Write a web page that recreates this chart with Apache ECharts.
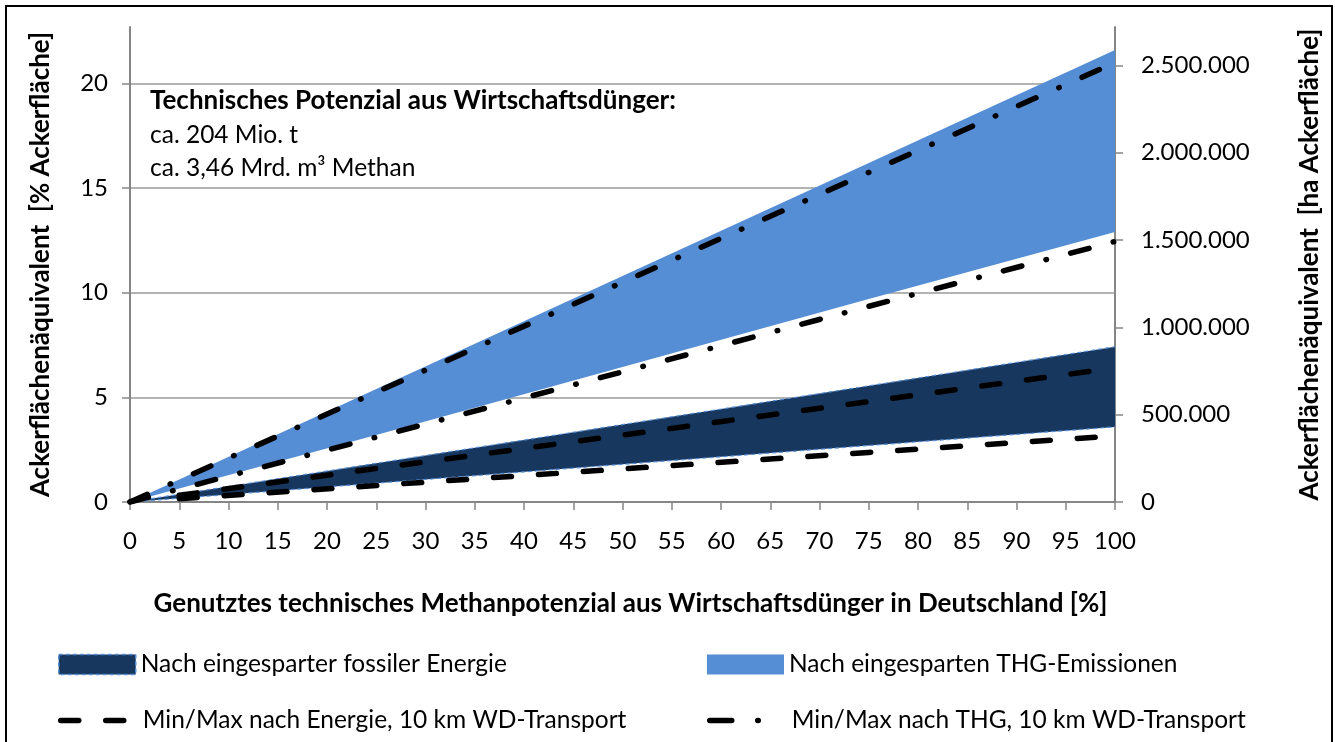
<!DOCTYPE html>
<html><head><meta charset="utf-8">
<script src="https://cdn.jsdelivr.net/npm/echarts@6/dist/echarts.min.js"></script>
<style>html,body{margin:0;padding:0;background:#fff}#c{width:1335px;height:742px}</style>
</head><body><div id="c"></div>
<script>
// x: genutztes technisches Methanpotenzial [%]
const xPct = [0, 5, 25, 50, 75, 100];
// Bänder [% Ackerfläche]
const thgBandLower = [0, 0.65, 3.2, 6.45, 9.7, 12.9];
const thgBandUpper = [0, 1.08, 5.4, 10.8, 16.2, 21.6];
const enBandLower  = [0, 0.18, 0.9, 1.8, 2.7, 3.59];
const enBandUpper  = [0, 0.37, 1.85, 3.7, 5.55, 7.42];
// Min/Max Linien (10 km WD-Transport)
const enLineMin  = [null, 0.16, 0.79, 1.58, 2.37, 3.16];
const enLineMax  = [null, 0.32, 1.6, 3.2, 4.8, 6.41];
const thgLineMin = [0, 0.62, 3.1, 6.22, 9.35, 12.45];
const thgLineMax = [0, 1.05, 5.25, 10.5, 15.75, 21.0];
// Achsen
const leftMax = 22.7;          // % Ackerfläche
const haPerPct = 119800;       // ha je % Ackerfläche
const xTicks = 5, leftTicks = 5, rightTicks = 500000;

const FONT = 'Lato';
const FS = 24, FSL = 24.5, FSB = 26;
const pairs = (xs, ys) => xs.map((x, i) => [x, ys[i]]).filter(p => p[1] !== null);
const de = v => String(Math.round(v)).replace(/\B(?=(\d{3})+(?!\d))/g, '.');

const LB = '#558ED5', DB = '#17375E';
const NAME_EN = 'Nach eingesparter fossiler Energie';
const NAME_THG = 'Nach eingesparten THG-Emissionen';
const NAME_ENL = 'Min/Max nach Energie, 10 km WD-Transport';
const NAME_THGL = 'Min/Max nach THG, 10 km WD-Transport';

const enLine = { color: '#000', width: 5.5, type: [18, 27], cap: 'round' };
const thgLine = { color: '#000', width: 5.5, type: [19, 25, 0.5, 25], cap: 'round' };
const edge = { color: LB, width: 1.2, type: [4, 3] };

function band(name, lower, upper, color, z) {
  return {
    name, type: 'custom', z, coordinateSystem: 'cartesian2d', silent: true,
    itemStyle: { color },
    data: [[0, 0]],
    encode: { x: 0, y: 1 },
    renderItem: (params, api) => {
      const pts = [];
      xPct.forEach((x, i) => pts.push(api.coord([x, upper[i]])));
      for (let i = xPct.length - 1; i >= 0; i--) pts.push(api.coord([xPct[i], lower[i]]));
      return { type: 'polygon', shape: { points: pts }, style: { fill: color } };
    }
  };
}

function legendAt(left, top, item) {
  return {
    orient: 'horizontal', left, top, itemWidth: 77, itemHeight: 20, itemGap: 0, padding: 0,
    textStyle: { fontFamily: FONT, fontSize: FSL, color: '#000' },
    data: [item]
  };
}

const chart = echarts.init(document.getElementById('c'), null, { renderer: 'canvas' });
chart.setOption({
  animation: false,
  textStyle: { fontFamily: FONT },
  grid: { left: 130, right: 220, top: 27, bottom: 240 },
  xAxis: {
    type: 'value', min: 0, max: 100, interval: xTicks,
    name: 'Genutztes technisches Methanpotenzial aus Wirtschaftsdünger in Deutschland [%]',
    nameLocation: 'middle', nameGap: 89,
    nameTextStyle: { fontFamily: FONT, fontSize: FSB, fontWeight: 'bold', color: '#000', padding: [0, 0, 0, 16] },
    axisLine: { lineStyle: { color: '#868686', width: 2 } },
    axisTick: { show: true, length: 8, lineStyle: { color: '#868686', width: 1.5 } },
    axisLabel: { fontFamily: FONT, fontSize: FS, color: '#000', margin: 27 },
    splitLine: { show: false }
  },
  yAxis: [{
    type: 'value', min: 0, max: leftMax, interval: leftTicks, position: 'left',
    name: 'Ackerflächenäquivalent  [% Ackerfläche]',
    nameLocation: 'middle', nameGap: 76, nameRotate: 90,
    nameTextStyle: { fontFamily: FONT, fontSize: FSB, fontWeight: 'bold', color: '#000' },
    axisLine: { show: true, lineStyle: { color: '#868686', width: 2 } },
    axisTick: { show: true, length: 8, lineStyle: { color: '#868686', width: 1.5 } },
    axisLabel: { fontFamily: FONT, fontSize: FS, color: '#000', margin: 22, showMaxLabel: false,
      formatter: v => (v % leftTicks === 0 ? String(v) : '') },
    splitLine: { show: true, showMaxLine: false, lineStyle: { color: '#9a9a9a', width: 1.5 } }
  }, {
    type: 'value', min: 0, max: leftMax * haPerPct, interval: rightTicks, position: 'right',
    name: 'Ackerflächenäquivalent  [ha Ackerfläche]',
    nameLocation: 'middle', nameGap: 182, nameRotate: 90,
    nameTextStyle: { fontFamily: FONT, fontSize: FSB, fontWeight: 'bold', color: '#000' },
    axisLine: { show: true, lineStyle: { color: '#868686', width: 2 } },
    axisTick: { show: true, length: 8, lineStyle: { color: '#868686', width: 1.5 } },
    axisLabel: { fontFamily: FONT, fontSize: FS, color: '#000', margin: 26, showMaxLabel: false,
      formatter: v => (v % rightTicks === 0 ? de(v) : '') },
    splitLine: { show: false }
  }],
  legend: [
    legendAt(58, 652, { name: NAME_EN, icon: 'rect', itemStyle: { color: DB, borderColor: LB, borderWidth: 1.5, borderType: [4, 3] } }),
    legendAt(58, 708, { name: NAME_ENL, itemStyle: { color: 'transparent', borderWidth: 0 },
      lineStyle: { color: '#000', width: 5.5, type: [18, 27], cap: 'round' } }),
    legendAt(707, 652, { name: NAME_THG, icon: 'rect', itemStyle: { color: LB, borderWidth: 0 } }),
    legendAt(707, 708, { name: NAME_THGL, itemStyle: { color: 'transparent', borderWidth: 0 },
      lineStyle: { color: '#000', width: 5.5, type: [22, 26, 0.5, 40], cap: 'round' } })
  ],
  graphic: [
    { type: 'rect', silent: true, z: 100, shape: { x: 6, y: 6, width: 1326, height: 800 },
      style: { fill: 'none', stroke: '#000', lineWidth: 2 } },
    { type: 'text', left: 150, top: 88, z: 10,
      style: { text: 'Technisches Potenzial aus Wirtschaftsdünger:', font: 'bold ' + FSB + 'px ' + FONT, fill: '#000' } },
    { type: 'text', left: 150, top: 123, z: 10,
      style: { text: 'ca. 204 Mio. t', font: FSL + 'px ' + FONT, fill: '#000' } },
    { type: 'text', left: 150, top: 156, z: 10,
      style: { text: 'ca. 3,46 Mrd. m³ Methan', font: FSL + 'px ' + FONT, fill: '#000' } }
  ],
  series: [
    band(NAME_THG, thgBandLower, thgBandUpper, LB, 1),
    band(NAME_EN, enBandLower, enBandUpper, DB, 2),
    { name: 'enEdgeLow', type: 'line', symbol: 'none', z: 2, silent: true, data: pairs(xPct, enBandLower), lineStyle: edge },
    { name: 'enEdgeHigh', type: 'line', symbol: 'none', z: 2, silent: true, data: pairs(xPct, enBandUpper), lineStyle: edge },
    { name: NAME_ENL, type: 'line', symbol: 'none', z: 3, data: pairs(xPct, enLineMax), lineStyle: enLine, itemStyle: { color: '#000' } },
    { name: NAME_ENL, type: 'line', symbol: 'none', z: 3, data: pairs(xPct, enLineMin), lineStyle: enLine, itemStyle: { color: '#000' } },
    { name: NAME_THGL, type: 'line', symbol: 'none', z: 3, data: pairs(xPct, thgLineMax), lineStyle: thgLine, itemStyle: { color: '#000' } },
    { name: NAME_THGL, type: 'line', symbol: 'none', z: 3, data: pairs(xPct, thgLineMin), lineStyle: thgLine, itemStyle: { color: '#000' } }
  ]
});
</script>
</body></html>
